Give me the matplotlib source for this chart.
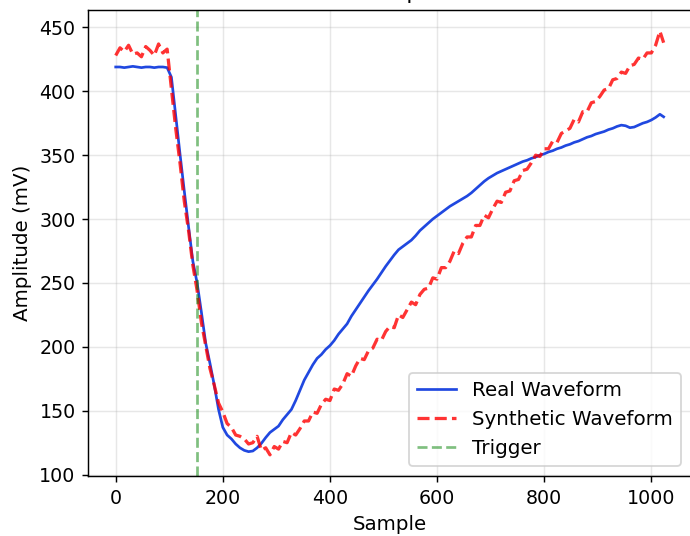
import numpy as np
import matplotlib
matplotlib.use('Agg')
import matplotlib.pyplot as plt

# sample index (every 8th sample plus the last one)
sample = list(range(0, 1024, 8)) + [1023]

real_waveform = [
    419, 419, 418.5, 419, 419.5, 419, 418.5, 419, 419, 418.5, 419, 419, 418.5,
    411, 381, 351, 322, 294, 267, 250, 227, 203, 187, 170, 151, 137, 131, 128,
    124, 121, 119, 118, 118.5, 121, 124.5, 129, 133, 135.5, 138, 143, 147, 151,
    158, 166, 174, 180, 186, 191, 194, 198, 201, 205, 210, 214, 218, 224, 229,
    234, 239, 244, 248.5, 253, 258, 263, 267.5, 272, 276, 278.5, 281, 283.5,
    287, 291, 294, 297, 300, 302.5, 305, 307.5, 310, 312, 314, 316, 318, 320.5,
    323.5, 326.5, 329.5, 332, 334, 336, 337.5, 339, 340.5, 342, 343.5, 345, 346,
    347.5, 348.5, 350, 351, 352.5, 353.5, 355, 356, 357.5, 358.5, 360, 361,
    362.5, 364, 365, 366.5, 367.5, 368.5, 370, 371, 372.5, 373.5, 373, 371.5,
    372, 373.5, 375, 376, 377.5, 379.5, 382, 380,
]

synthetic_waveform = [
    # 0 - 96
    428, 434, 431, 436, 429, 430, 427, 435, 432, 428, 437, 430, 433,
    # 104 - 232
    402, 371, 344, 314, 291, 264, 244, 219, 201, 183, 170, 156, 149, 140, 137,
    131, 130,
    # 240 - 360
    128, 124, 125, 130, 119, 121, 115.5, 122, 120, 126, 125, 133, 131, 136, 142,
    142,
    # 368 - 488
    149, 148, 155, 159, 158, 167, 166, 171, 179, 177, 185, 191, 190, 197, 199,
    206,
    # 496 - 616
    205, 212, 216, 215, 225, 223, 229, 235, 233, 241, 245, 246, 254, 253, 262,
    262,
    # 624 - 744
    267, 275, 273, 281, 286, 286, 295, 295, 303, 301, 308, 314, 313, 321, 322,
    330,
    # 752 - 872
    331, 338, 339, 344, 350, 349, 355, 355, 361, 360, 367, 369, 371, 378, 376,
    384,
    # 880 - 1000
    384, 391, 392, 396, 401, 402, 409, 410, 415, 414, 420, 421, 426, 425, 430,
    430,
    # 1008, 1016, 1023
    436, 447, 438,
]

trigger_sample = 152

fig = plt.figure(figsize=(690 / 130, 536 / 130), dpi=130)
ax = fig.add_axes([0.128, 0.1119, 0.8735, 0.8694])

ax.plot(sample, real_waveform, '-', color='#2048e0', label='Real Waveform')
ax.plot(sample, synthetic_waveform, 'r--', label='Synthetic Waveform',
        alpha=0.8, linewidth=1.8)
ax.axvline(trigger_sample, color='g', linestyle='--', alpha=0.5, label='Trigger')

ax.set_xlabel('Sample', fontsize=11)
ax.set_ylabel('Amplitude (mV)', fontsize=11)
ax.set_title('Pulse Comparison', fontsize=12)
ax.tick_params(labelsize=10.5)
ax.legend(loc='lower right', fontsize=11)
ax.grid(True, alpha=0.3)
ax.spines['right'].set_visible(False)

fig.savefig('out.png', dpi=130)
plt.close(fig)
